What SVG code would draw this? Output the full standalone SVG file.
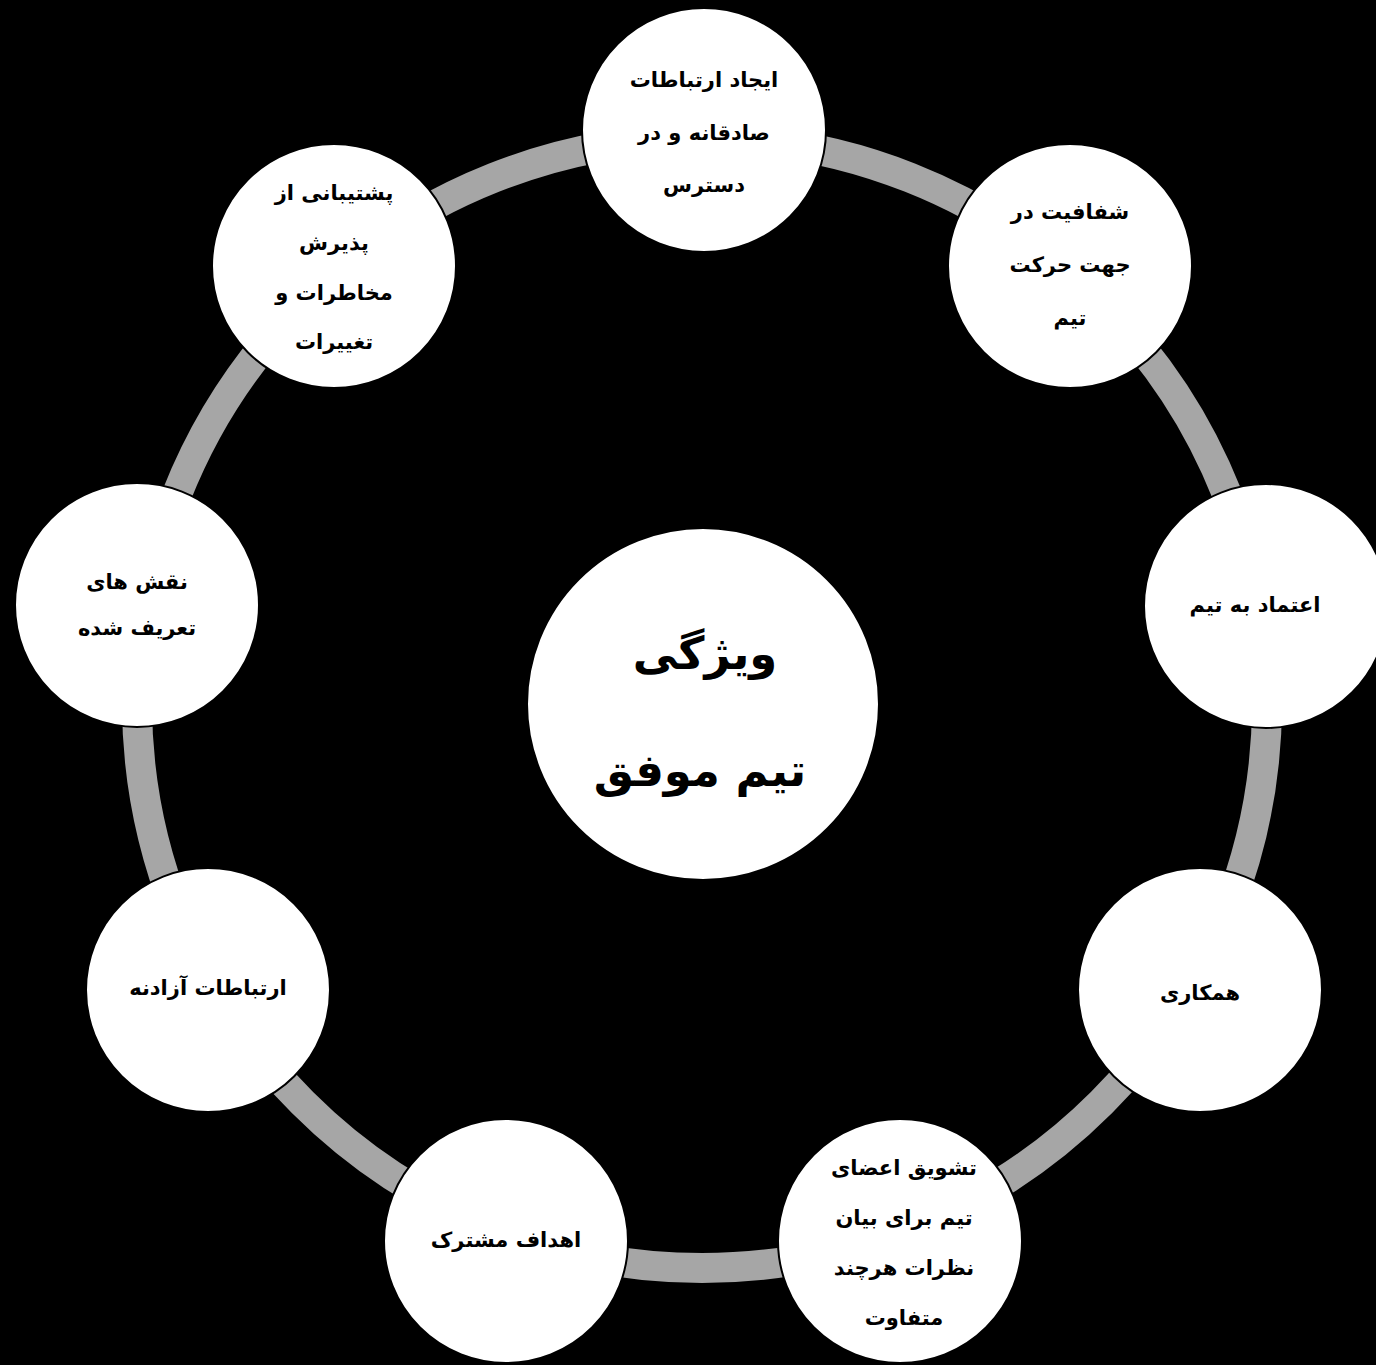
<svg xmlns="http://www.w3.org/2000/svg" width="1376" height="1365" viewBox="0 0 1376 1365">
<style>
.node{fill:#ffffff;stroke:#000000;stroke-width:2}
.t{font-family:"DejaVu Sans",sans-serif;font-weight:bold;font-size:21px;fill:#000000;text-anchor:middle;dominant-baseline:central}
.big{font-size:45px}
</style>
<rect x="0" y="0" width="1376" height="1365" fill="#000000"/>
<g id="connectors">
<circle cx="702" cy="703" r="565" fill="none" stroke="#a6a6a6" stroke-width="30"/>
</g>
<g id="center">
<circle class="node" cx="703" cy="704" r="176"/>
<text class="t big" x="705" y="653" direction="rtl">ویژگی</text>
<text class="t big" x="700" y="770" direction="rtl">تیم موفق</text>
</g>
<g id="n1">
<circle class="node" cx="704" cy="130" r="122"/>
<text class="t" x="704" y="80" direction="rtl">ایجاد ارتباطات</text>
<text class="t" x="704" y="133" direction="rtl">صادقانه و در</text>
<text class="t" x="704" y="185" direction="rtl">دسترس</text>
</g>
<g id="n2">
<circle class="node" cx="1070" cy="266" r="122"/>
<text class="t" x="1070" y="212" direction="rtl">شفافیت در</text>
<text class="t" x="1070" y="265" direction="rtl">جهت حرکت</text>
<text class="t" x="1070" y="318" direction="rtl">تیم</text>
</g>
<g id="n3">
<circle class="node" cx="1266" cy="606" r="122"/>
<text class="t" x="1255" y="605" direction="rtl">اعتماد به تیم</text>
</g>
<g id="n4">
<circle class="node" cx="1200" cy="990" r="122"/>
<text class="t" x="1200" y="993" direction="rtl">همکاری</text>
</g>
<g id="n5">
<circle class="node" cx="900" cy="1241" r="122"/>
<text class="t" x="904" y="1168" direction="rtl">تشویق اعضای</text>
<text class="t" x="904" y="1218" direction="rtl">تیم برای بیان</text>
<text class="t" x="904" y="1268" direction="rtl">نظرات هرچند</text>
<text class="t" x="904" y="1318" direction="rtl">متفاوت</text>
</g>
<g id="n6">
<circle class="node" cx="506" cy="1241" r="122"/>
<text class="t" x="506" y="1240" direction="rtl">اهداف مشترک</text>
</g>
<g id="n7">
<circle class="node" cx="208" cy="990" r="122"/>
<text class="t" x="208" y="988" direction="rtl">ارتباطات آزادنه</text>
</g>
<g id="n8">
<circle class="node" cx="137" cy="605" r="122"/>
<text class="t" x="137" y="582" direction="rtl">نقش های</text>
<text class="t" x="137" y="628" direction="rtl">تعریف شده</text>
</g>
<g id="n9">
<circle class="node" cx="334" cy="266" r="122"/>
<text class="t" x="334" y="193" direction="rtl">پشتیبانی از</text>
<text class="t" x="334" y="243" direction="rtl">پذیرش</text>
<text class="t" x="334" y="293" direction="rtl">مخاطرات و</text>
<text class="t" x="334" y="342" direction="rtl">تغییرات</text>
</g>
</svg>
